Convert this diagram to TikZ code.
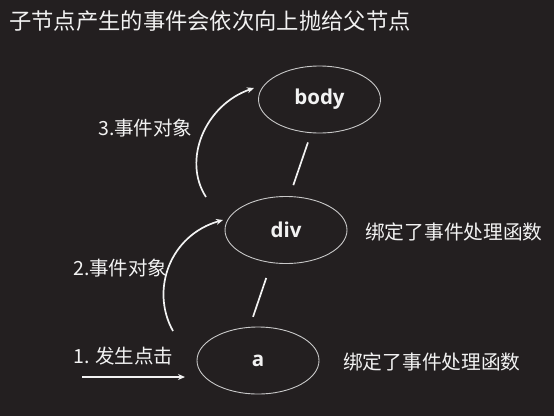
\documentclass[tikz,border=0pt]{standalone}
\usepackage{fontspec}
\setmainfont{Noto Sans CJK SC}
\newfontfamily\latb{Open Sans}
\usetikzlibrary{arrows.meta,shapes.geometric}
\definecolor{bg}{RGB}{35,31,32}
\definecolor{fg}{RGB}{242,242,242}
\definecolor{ring}{RGB}{200,200,200}
\tikzset{
  elnode/.style={draw=ring, line width=0.9pt, ellipse, minimum width=122pt, minimum height=67pt, inner sep=0pt, text=fg, font=\latb\bfseries\fontsize{20.5}{23}\selectfont},
  lbl/.style={text=fg, anchor=west, inner sep=0pt, font=\fontsize{19.5}{21}\selectfont},
  side/.style={text=fg, anchor=west, inner sep=0pt, font=\fontsize{19.7}{22}\selectfont},
  link/.style={draw=fg, line width=1.7pt},
  flow/.style={draw=fg, line width=1.7pt, -{Stealth[length=7pt,width=6pt]}}
}
\begin{document}
\begin{tikzpicture}[x=1pt,y=-1pt]
\useasboundingbox (0,0) rectangle (554,416);
\fill[bg] (0,0) rectangle (554,416);
\node[text=fg, anchor=west, inner sep=0pt, font=\fontsize{22.3}{24}\selectfont] (title) at (9,21) {子节点产生的事件会依次向上抛给父节点};
\node[elnode] (body) at (319.5,99.5) {body};
\node[elnode] (div) at (286,230) {div};
\node[elnode] (a) at (258,360.5) {a};
\draw[link, shorten <=9.8pt, shorten >=11.6pt] (body.256) -- (div.84);
\draw[link, shorten <=15.8pt, shorten >=10.6pt] (div.246) -- (a.104);
\node[side] (divnote) at (365,232) {绑定了事件处理函数};
\node[side] (anote) at (343,362) {绑定了事件处理函数};
\node[lbl] (l1) at (73,356) {1. 发生点击};
\node[lbl] (l2) at (73,268) {2.事件对象};
\node[lbl] (l3) at (98,128) {3.事件对象};
\coordinate (s1) at (82,377);
\coordinate (e1) at (185,377);
\coordinate (s2) at (173,331);
\coordinate (e2) at (223,220);
\coordinate (s3) at (206,197);
\coordinate (e3) at (254,88);
\draw[flow] (s1) -- (e1);
\draw[flow] (s2) .. controls (150,290) and (170,235) .. (e2);
\draw[flow] (s3) .. controls (182,160) and (205,105) .. (e3);
\end{tikzpicture}
\end{document}
